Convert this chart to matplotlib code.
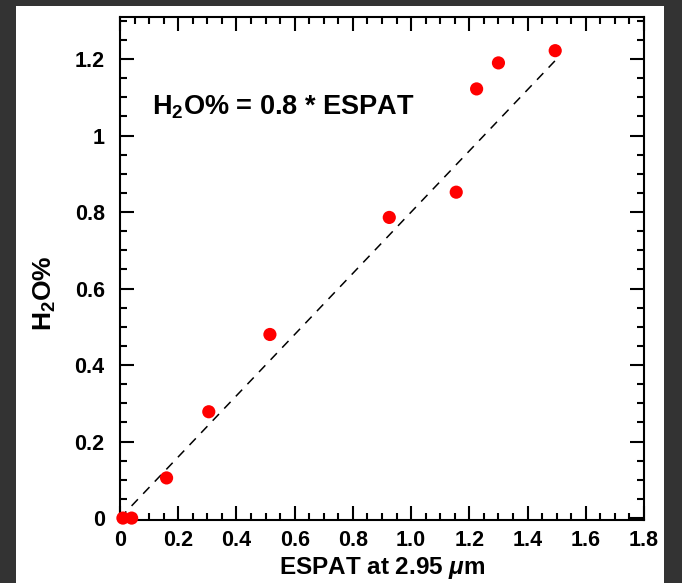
import numpy as np
import matplotlib
matplotlib.use("Agg")
import matplotlib.pyplot as plt
from matplotlib.patches import Rectangle
from matplotlib.ticker import MultipleLocator

plt.rcParams['font.family'] = ['Liberation Sans', 'DejaVu Sans']
plt.rcParams['font.weight'] = 'bold'
plt.rcParams['mathtext.fontset'] = 'custom'
plt.rcParams['mathtext.rm'] = 'Liberation Sans:bold'
plt.rcParams['mathtext.bf'] = 'Liberation Sans:bold'
plt.rcParams['mathtext.it'] = 'Liberation Sans:italic:bold'
plt.rcParams['mathtext.default'] = 'rm'

# data
espat = [0.01, 0.04, 0.16, 0.305, 0.515, 0.925, 1.155, 1.225, 1.30, 1.495]
h2o = [0.0, 0.0, 0.105, 0.278, 0.48, 0.786, 0.852, 1.122, 1.19, 1.222]
fit_x = [0.0, 1.5]
slope = 0.8

x_ticks = [0, 0.2, 0.4, 0.6, 0.8, 1.0, 1.2, 1.4, 1.6, 1.8]
x_labels = ["0", "0.2", "0.4", "0.6", "0.8", "1.0", "1.2", "1.4", "1.6", "1.8"]
y_ticks = [0, 0.2, 0.4, 0.6, 0.8, 1.0, 1.2]
y_labels = ["0", "0.2", "0.4", "0.6", "0.8", "1", "1.2"]


def main():
    fig = plt.figure(figsize=(6.82, 5.83), dpi=100, facecolor='#333333')
    # white panel behind the plot
    fig.add_artist(Rectangle((16 / 682, 0), 648 / 682, 1 - 6 / 583,
                             transform=fig.transFigure,
                             facecolor='white', edgecolor='none',
                             zorder=-10))
    ax = fig.add_axes([120 / 682, 1 - 520 / 583, 524 / 682, 503 / 583])

    fx = np.array(fit_x)
    ax.plot(fx, slope * fx, linestyle=(0, (6, 5)), color='black', lw=1.1)
    ax.scatter(espat, h2o, s=90, color='#ff0000', edgecolors='none',
               zorder=3, clip_on=False)

    ax.text(0.11, 1.075, r'H$_2$O% = 0.8 * ESPAT', fontsize=19.5,
            fontweight='bold', va='center', ha='left')

    ax.set_xlim(0, 1.8)
    ax.set_ylim(-0.005, 1.31)
    ax.set_xticks(x_ticks)
    ax.set_xticklabels(x_labels)
    ax.set_yticks(y_ticks)
    ax.set_yticklabels(y_labels)
    ax.xaxis.set_minor_locator(MultipleLocator(0.05))
    ax.yaxis.set_minor_locator(MultipleLocator(0.05))
    ax.tick_params(which='both', direction='in', top=True, right=True,
                   width=1.5, labelsize=15.5)
    ax.tick_params(axis='x', pad=7)
    ax.tick_params(axis='y', pad=11)
    ax.tick_params(which='major', length=10)
    ax.tick_params(which='minor', length=5)
    for sp in ax.spines.values():
        sp.set_linewidth(1.5)

    ax.set_xlabel(r'ESPAT at 2.95 $\mathit{\mu}$m', fontsize=17.5,
                  fontweight='bold', labelpad=3)
    ax.set_ylabel(r'H$_2$O%', fontsize=19, fontweight='bold')
    # the y label sits lower than the axis middle in the original
    ax.yaxis.set_label_coords(-0.118, 0.451)

    fig.savefig('out.png', dpi=100, facecolor=fig.get_facecolor())
    return (0)


if __name__ == "__main__":
    main()
